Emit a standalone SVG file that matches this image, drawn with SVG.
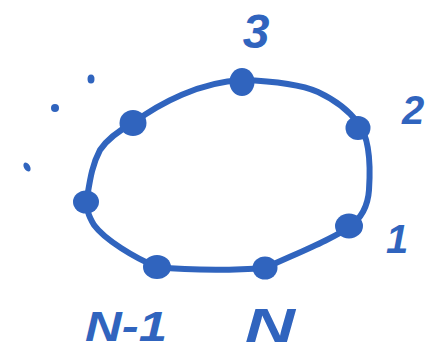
<svg xmlns="http://www.w3.org/2000/svg" width="434" height="352" viewBox="0 0 434 352">
<style>
.ring{fill:none;stroke:#3064BE;stroke-width:6;stroke-linecap:round;stroke-linejoin:round}
.dot{fill:#3064BE}
.lbl{fill:#3064BE;font-family:"Liberation Sans","DejaVu Sans",sans-serif;font-style:italic;font-weight:bold}
</style>
<rect width="434" height="352" fill="#ffffff"/>
<g id="connectors">
<path class="ring" d="M242 80 C270 81 300 84 318 92 C335 100 350 112 358 123 C368 135 371 160 369 190 C368 205 362 218 349 227 C335 238 300 252 265 268 C240 270 195 271 157 267 C135 258 105 240 94 225 C88 215 86 208 87 198 C90 180 92 165 100 150 C108 138 120 130 133 123 C160 103 200 82 242 80 Z"/>
</g>
<g id="node-3"><ellipse class="dot" cx="242" cy="82" rx="12.5" ry="14"/><text class="lbl" x="256" y="48" font-size="48" text-anchor="middle">3</text></g>
<g id="node-2"><ellipse class="dot" cx="358" cy="128" rx="12.5" ry="12"/><text class="lbl" x="413" y="124" font-size="40" text-anchor="middle">2</text></g>
<g id="node-1"><ellipse class="dot" cx="349" cy="226" rx="14" ry="12.5"/><text class="lbl" x="397" y="253" font-size="40" text-anchor="middle">1</text></g>
<g id="node-N"><ellipse class="dot" cx="265" cy="268" rx="12.5" ry="11.5"/><text class="lbl" x="245" y="342" font-size="48" textLength="50" lengthAdjust="spacingAndGlyphs">N</text></g>
<g id="node-N-1"><ellipse class="dot" cx="157" cy="267" rx="14" ry="12"/><text class="lbl" x="85" y="341" font-size="42" textLength="82" lengthAdjust="spacingAndGlyphs">N-1</text></g>
<g id="node-left"><ellipse class="dot" cx="86" cy="202" rx="13" ry="11.5"/></g>
<g id="node-upper-left"><ellipse class="dot" cx="133" cy="123" rx="13.5" ry="13"/></g>
<g id="ellipsis">
<ellipse class="dot" cx="91" cy="79" rx="3.5" ry="4.5"/>
<ellipse class="dot" cx="55" cy="108" rx="4" ry="4"/>
<ellipse class="dot" cx="27" cy="167" rx="3" ry="5" transform="rotate(-30 27 167)"/>
</g>
</svg>
